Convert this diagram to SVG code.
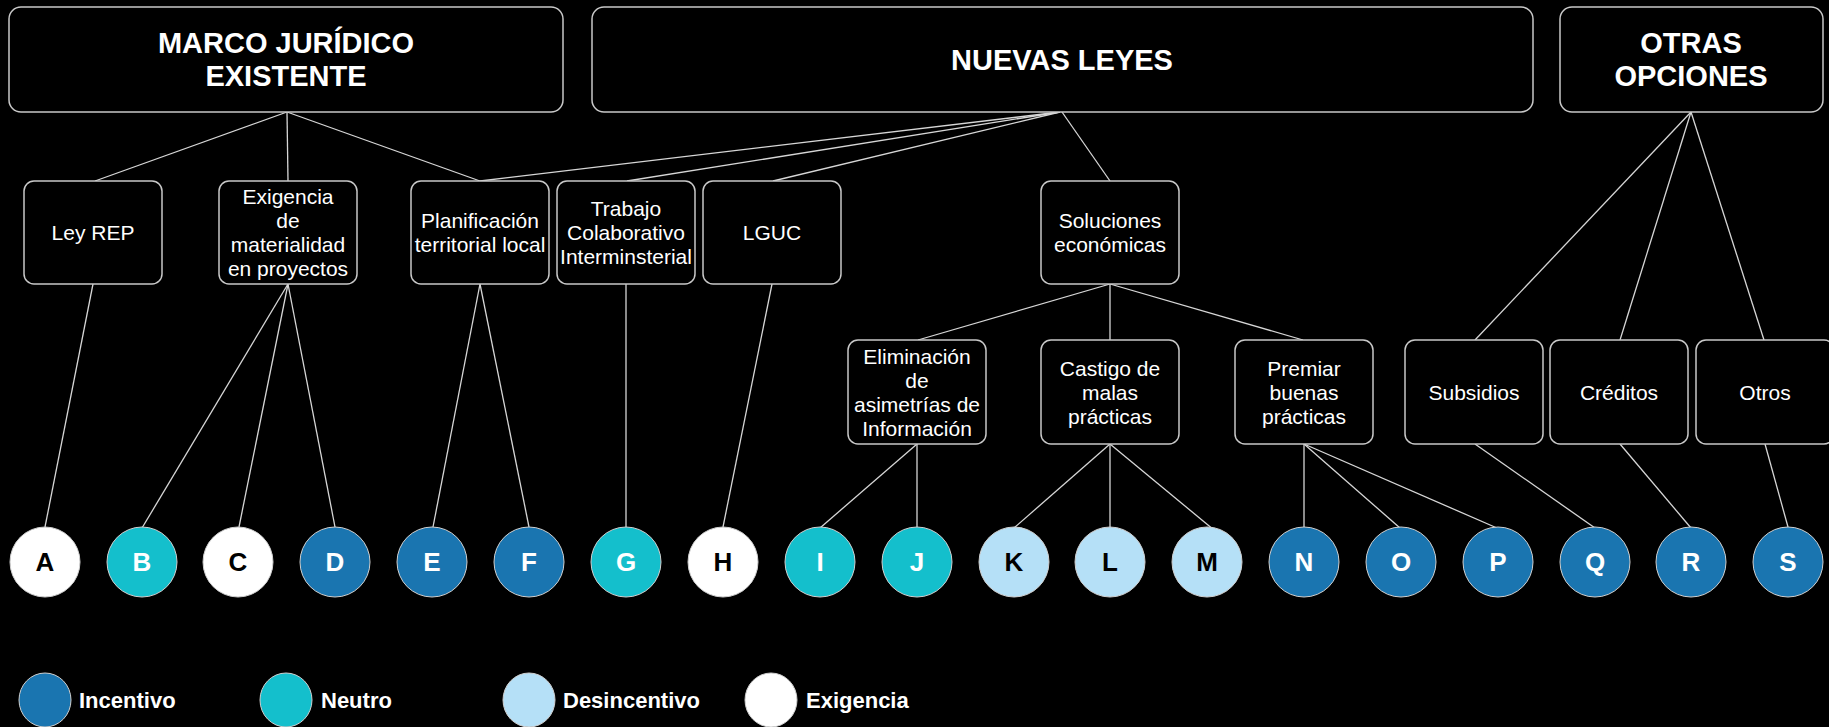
<svg xmlns="http://www.w3.org/2000/svg" width="1829" height="727" viewBox="0 0 1829 727">
<style>
.bg{fill:#000}
.box{fill:#000;stroke:#c8c8c8;stroke-width:1.5}
.title{font-family:"Liberation Sans",Arial,sans-serif;font-weight:bold;font-size:29px;fill:#fff;text-anchor:middle}
.lbl{font-family:"Liberation Sans",Arial,sans-serif;font-size:21px;fill:#fff;text-anchor:middle}
.conn line{stroke:#d6d6d6;stroke-width:1.3}
.c{stroke:#d0d0d0;stroke-width:1}
.inc{fill:#1a75b0}
.neu{fill:#14bfcc}
.des{fill:#b5e0f7}
.exi{fill:#ffffff}
.let{font-family:"Liberation Sans",Arial,sans-serif;font-weight:bold;font-size:26px;text-anchor:middle}
.w{fill:#fff}
.k{fill:#000}
.leg{font-family:"Liberation Sans",Arial,sans-serif;font-weight:bold;font-size:22px;fill:#fff}
</style>
<rect class="bg" x="0" y="0" width="1829" height="727"/>

<g id="connectors" class="conn">
<line x1="287" y1="112" x2="95" y2="181"/>
<line x1="287" y1="112" x2="288" y2="181"/>
<line x1="287" y1="112" x2="480" y2="181"/>
<line x1="1060" y1="112" x2="480" y2="181"/>
<line x1="1060" y1="112" x2="627" y2="181"/>
<line x1="1060" y1="112" x2="773" y2="181"/>
<line x1="1062" y1="112" x2="1110" y2="181"/>
<line x1="1691" y1="112" x2="1475" y2="340"/>
<line x1="1691" y1="112" x2="1620" y2="340"/>
<line x1="1691" y1="112" x2="1764" y2="340"/>
<line x1="93" y1="284" x2="45" y2="527"/>
<line x1="288" y1="284" x2="142" y2="528"/>
<line x1="288" y1="284" x2="239" y2="527"/>
<line x1="288" y1="284" x2="335" y2="527"/>
<line x1="480" y1="284" x2="433" y2="527"/>
<line x1="480" y1="284" x2="529" y2="527"/>
<line x1="626" y1="284" x2="626" y2="527"/>
<line x1="772" y1="284" x2="723" y2="527"/>
<line x1="1110" y1="284" x2="918" y2="340"/>
<line x1="1110" y1="284" x2="1110" y2="340"/>
<line x1="1110" y1="284" x2="1303" y2="340"/>
<line x1="917" y1="444" x2="820" y2="528"/>
<line x1="917" y1="444" x2="917" y2="527"/>
<line x1="1110" y1="444" x2="1014" y2="528"/>
<line x1="1110" y1="444" x2="1110" y2="527"/>
<line x1="1110" y1="444" x2="1214" y2="530"/>
<line x1="1304" y1="444" x2="1304" y2="527"/>
<line x1="1304" y1="444" x2="1400" y2="528"/>
<line x1="1304" y1="444" x2="1497" y2="528"/>
<line x1="1475" y1="444" x2="1595" y2="528"/>
<line x1="1620" y1="444" x2="1691" y2="528"/>
<line x1="1765" y1="444" x2="1788" y2="527"/>
</g>

<g id="marco">
<rect class="box" x="9" y="7" width="554" height="105" rx="12"/>
<text class="title" x="286" y="53">MARCO JURÍDICO</text>
<text class="title" x="286" y="86">EXISTENTE</text>
</g>
<g id="nuevas">
<rect class="box" x="592" y="7" width="941" height="105" rx="12"/>
<text class="title" x="1062" y="70">NUEVAS LEYES</text>
</g>
<g id="otras">
<rect class="box" x="1560" y="7" width="263" height="105" rx="12"/>
<text class="title" x="1691" y="53">OTRAS</text>
<text class="title" x="1691" y="86">OPCIONES</text>
</g>

<g id="leyrep">
<rect class="box" x="24" y="181" width="138" height="103" rx="10"/>
<text class="lbl" x="93" y="240">Ley REP</text>
</g>
<g id="exigencia">
<rect class="box" x="219" y="181" width="138" height="103" rx="10"/>
<text class="lbl" x="288" y="204">Exigencia</text>
<text class="lbl" x="288" y="228">de</text>
<text class="lbl" x="288" y="252">materialidad</text>
<text class="lbl" x="288" y="276">en proyectos</text>
</g>
<g id="planificacion">
<rect class="box" x="411" y="181" width="138" height="103" rx="10"/>
<text class="lbl" x="480" y="228">Planificación</text>
<text class="lbl" x="480" y="252">territorial local</text>
</g>
<g id="trabajo">
<rect class="box" x="557" y="181" width="138" height="103" rx="10"/>
<text class="lbl" x="626" y="216">Trabajo</text>
<text class="lbl" x="626" y="240">Colaborativo</text>
<text class="lbl" x="626" y="264">Interminsterial</text>
</g>
<g id="lguc">
<rect class="box" x="703" y="181" width="138" height="103" rx="10"/>
<text class="lbl" x="772" y="240">LGUC</text>
</g>
<g id="soluciones">
<rect class="box" x="1041" y="181" width="138" height="103" rx="10"/>
<text class="lbl" x="1110" y="228">Soluciones</text>
<text class="lbl" x="1110" y="252">económicas</text>
</g>

<g id="eliminacion">
<rect class="box" x="848" y="340" width="138" height="104" rx="10"/>
<text class="lbl" x="917" y="364">Eliminación</text>
<text class="lbl" x="917" y="388">de</text>
<text class="lbl" x="917" y="412">asimetrías de</text>
<text class="lbl" x="917" y="436">Información</text>
</g>
<g id="castigo">
<rect class="box" x="1041" y="340" width="138" height="104" rx="10"/>
<text class="lbl" x="1110" y="376">Castigo de</text>
<text class="lbl" x="1110" y="400">malas</text>
<text class="lbl" x="1110" y="424">prácticas</text>
</g>
<g id="premiar">
<rect class="box" x="1235" y="340" width="138" height="104" rx="10"/>
<text class="lbl" x="1304" y="376">Premiar</text>
<text class="lbl" x="1304" y="400">buenas</text>
<text class="lbl" x="1304" y="424">prácticas</text>
</g>
<g id="subsidios">
<rect class="box" x="1405" y="340" width="138" height="104" rx="10"/>
<text class="lbl" x="1474" y="400">Subsidios</text>
</g>
<g id="creditos">
<rect class="box" x="1550" y="340" width="138" height="104" rx="10"/>
<text class="lbl" x="1619" y="400">Créditos</text>
</g>
<g id="otros">
<rect class="box" x="1696" y="340" width="138" height="104" rx="10"/>
<text class="lbl" x="1765" y="400">Otros</text>
</g>

<g id="nA"><circle class="c exi" cx="45" cy="562" r="35"/><text class="let k" x="45" y="571">A</text></g>
<g id="nB"><circle class="c neu" cx="142" cy="562" r="35"/><text class="let w" x="142" y="571">B</text></g>
<g id="nC"><circle class="c exi" cx="238" cy="562" r="35"/><text class="let k" x="238" y="571">C</text></g>
<g id="nD"><circle class="c inc" cx="335" cy="562" r="35"/><text class="let w" x="335" y="571">D</text></g>
<g id="nE"><circle class="c inc" cx="432" cy="562" r="35"/><text class="let w" x="432" y="571">E</text></g>
<g id="nF"><circle class="c inc" cx="529" cy="562" r="35"/><text class="let w" x="529" y="571">F</text></g>
<g id="nG"><circle class="c neu" cx="626" cy="562" r="35"/><text class="let w" x="626" y="571">G</text></g>
<g id="nH"><circle class="c exi" cx="723" cy="562" r="35"/><text class="let k" x="723" y="571">H</text></g>
<g id="nI"><circle class="c neu" cx="820" cy="562" r="35"/><text class="let w" x="820" y="571">I</text></g>
<g id="nJ"><circle class="c neu" cx="917" cy="562" r="35"/><text class="let w" x="917" y="571">J</text></g>
<g id="nK"><circle class="c des" cx="1014" cy="562" r="35"/><text class="let k" x="1014" y="571">K</text></g>
<g id="nL"><circle class="c des" cx="1110" cy="562" r="35"/><text class="let k" x="1110" y="571">L</text></g>
<g id="nM"><circle class="c des" cx="1207" cy="562" r="35"/><text class="let k" x="1207" y="571">M</text></g>
<g id="nN"><circle class="c inc" cx="1304" cy="562" r="35"/><text class="let w" x="1304" y="571">N</text></g>
<g id="nO"><circle class="c inc" cx="1401" cy="562" r="35"/><text class="let w" x="1401" y="571">O</text></g>
<g id="nP"><circle class="c inc" cx="1498" cy="562" r="35"/><text class="let w" x="1498" y="571">P</text></g>
<g id="nQ"><circle class="c inc" cx="1595" cy="562" r="35"/><text class="let w" x="1595" y="571">Q</text></g>
<g id="nR"><circle class="c inc" cx="1691" cy="562" r="35"/><text class="let w" x="1691" y="571">R</text></g>
<g id="nS"><circle class="c inc" cx="1788" cy="562" r="35"/><text class="let w" x="1788" y="571">S</text></g>

<g id="legend">
<ellipse class="c inc" cx="45" cy="700" rx="26" ry="27"/>
<text class="leg" x="79" y="708">Incentivo</text>
<ellipse class="c neu" cx="286" cy="700" rx="26" ry="27"/>
<text class="leg" x="321" y="708">Neutro</text>
<ellipse class="c des" cx="529" cy="700" rx="26" ry="27"/>
<text class="leg" x="563" y="708">Desincentivo</text>
<ellipse class="c exi" cx="771" cy="700" rx="26" ry="27"/>
<text class="leg" x="806" y="708">Exigencia</text>
</g>
</svg>
